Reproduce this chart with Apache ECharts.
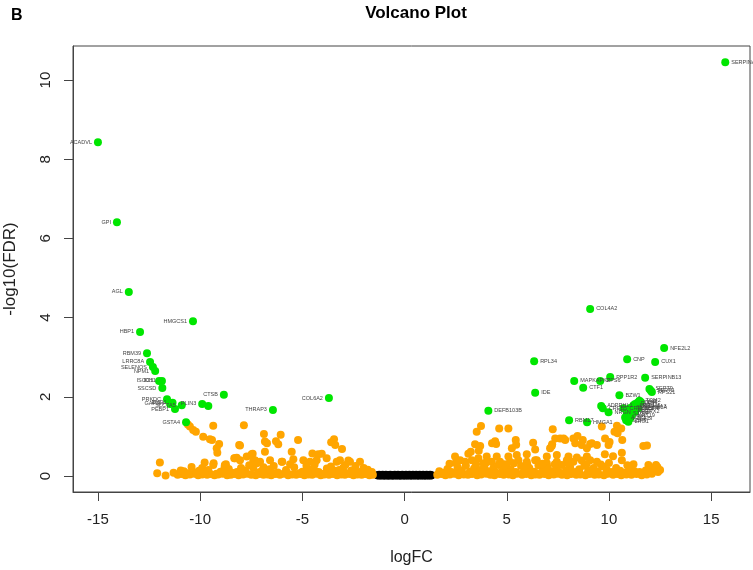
<!DOCTYPE html>
<html>
<head>
<meta charset="utf-8">
<script src="https://cdn.jsdelivr.net/npm/echarts@6/dist/echarts.min.js"></script>
<style>html,body{margin:0;padding:0;background:#fff}#c{width:753px;height:570px}</style>
</head>
<body>
<div id="c"></div>
<script>
var xTicks = [-15, -10, -5, 0, 5, 10, 15];
var yTicks = [0, 2, 4, 6, 8, 10];

// not significant (black), hugging zero
var blackX = [-1.32,-1.28,-1.24,-1.2,-1.16,-1.12,-1.07,-1.03,-0.99,-0.95,-0.91,-0.86,-0.82,-0.78,-0.74,-0.7,-0.65,-0.61,-0.57,-0.53,-0.48,-0.44,-0.4,-0.36,-0.32,-0.27,-0.23,-0.19,-0.15,-0.11,-0.06,-0.02,0.03,0.07,0.11,0.15,0.19,0.24,0.28,0.32,0.36,0.41,0.45,0.49,0.53,0.57,0.62,0.66,0.7,0.74,0.79,0.83,0.87,0.91,0.95,1.0,1.04,1.08,1.12,1.17,1.21,1.25,1.29,1.32];
var blackY = [0.02,0.01,0.03,0.02,0.01,0.02,0.03,0.01,0.02,0.01,0.03,0.02,0.01,0.02,0.01,0.03,0.02,0.01,0.02,0.01,0.03,0.02,0.01,0.02,0.03,0.01,0.02,0.01,0.02,0.03,0.01,0.02,0.01,0.03,0.02,0.01,0.02,0.03,0.01,0.02,0.01,0.03,0.02,0.01,0.02,0.03,0.01,0.02,0.01,0.03,0.02,0.01,0.02,0.03,0.01,0.02,0.01,0.03,0.02,0.01,0.02,0.03,0.01,0.02];

// fold-change passed but FDR not (orange)
var orangeX = [
-10.6,-10.5,-10.34,-10.21,-9.36,-7.86,-9.85,-9.52,-9.42,-9.07,-9.19,-9.16,-6.88,-6.06,-6.83,-6.73,-6.18,-5.21,-3.45,-3.39,-3.06,-8.09,-7.43,-6.83,-5.52,-4.51,-4.05,-11.97,-9.78,-9.34,-8.33,-5.98,-4.95,-3.81,-3.32,-2.75,-2.18,-12.1,-11.69,-10.42,
-4.22,-8.3,-8.05,-7.72,-7.32,-7.07,-6.58,-6.01,-5.44,-4.63,-4.3,-3.16,-2.67,-9.36,-8.79,-8.21,-7.48,-7.4,-7.23,-8.74,-8.05,-6.29,-3.59,
-11.1,-10.9,-10.72,-10.5,-10.28,-10.1,-9.9,-9.66,-9.5,-9.3,-9.12,-8.9,-8.68,-8.5,-8.3,-8.12,-7.9,-7.7,-7.5,-7.28,-7.1,-6.9,-6.7,-6.52,-6.3,-6.1,-5.92,-5.7,-5.5,-5.3,-5.1,-4.9,-4.7,-4.52,-4.3,-4.1,-3.92,-3.7,-3.5,-3.3,-3.1,-2.92,-2.7,-2.5,-2.3,-2.1,-1.9,-1.72,-1.55,
-10.8,-10.2,-9.6,-9.0,-8.6,-8.2,-7.8,-7.4,-7.0,-6.6,-6.2,-5.8,-5.4,-5.0,-4.6,-4.2,-3.8,-3.4,-3.0,-2.6,-2.2,-1.8,-2.4,-3.6,-4.8,-6.4,-7.6,-8.8,-9.9,-5.6,-4.4,-2.9,-6.9,-8.0,-3.2,-1.6,-2.0,-11.3,-10.95,
-10.6,-9.8,-9.2,-8.45,-7.95,-7.15,-6.45,-5.75,-5.15,-4.75,-3.95,-3.55,-2.85,-2.45,-1.95,-1.68,-6.95,-4.35,-8.85,-10.05,
3.74,3.53,4.63,5.08,7.25,4.43,4.48,5.44,3.70,7.37,7.61,7.86,8.26,8.72,8.35,8.67,8.92,9.16,9.41,7.12,7.2,6.39,5.25,3.24,3.12,3.63,
4.02,4.51,5.08,5.49,5.98,6.39,6.96,7.45,8.02,8.43,8.92,2.47,2.72,2.96,3.29,3.61,3.86,4.27,4.67,5.16,5.57,5.98,6.47,6.96,7.45,7.94,8.26,8.67,9.08,9.41,
9.65,10.39,10.27,10.42,10.6,10.65,11.86,7.78,8.46,9.08,9.81,9.98,11.68,11.93,12.37,12.03,10.63,10.63,11.2,10.2,9.8,3.45,4.28,5.46,6.29,7.22,10.03,
1.6,1.8,2.0,2.22,2.45,2.65,2.9,3.1,3.3,3.55,3.75,4.0,4.2,4.4,4.65,4.85,5.1,5.3,5.5,5.75,5.95,6.2,6.4,6.6,6.85,7.05,7.3,7.5,7.7,7.95,8.15,8.4,8.6,8.85,9.05,9.3,9.5,9.75,9.95,10.2,10.4,10.6,10.85,11.1,11.35,11.6,11.85,12.1,12.4,
1.7,2.1,2.3,2.6,2.8,3.0,3.2,3.4,3.7,3.9,4.1,4.35,4.6,4.8,5.0,5.2,5.45,5.7,5.9,6.1,6.35,6.55,6.8,7.0,7.25,7.45,7.7,7.9,8.1,8.35,8.55,8.8,9.0,9.25,9.45,9.7,9.9,10.15,10.35,10.55,10.8,11.0,11.25,11.5,11.8,12.2,
2.2,2.5,3.5,4.0,4.9,5.35,6.0,6.75,7.35,8.0,8.9,9.6,10.0,10.9,12.5,12.3,
1.9,2.4,2.75,3.15,3.45,3.8,4.15,4.5,4.75,5.05,5.4,5.8,6.25,6.7,7.15,7.6,8.05,8.5,8.95,9.35,9.85,10.3,10.7,11.15,11.55,12.0
];
var orangeY = [
1.3,1.25,1.16,1.12,1.27,1.28,0.99,0.93,0.91,0.81,0.70,0.59,1.06,1.04,0.87,0.83,0.80,0.91,0.93,0.78,0.68,0.78,0.56,0.61,0.61,0.57,0.56,0.34,0.34,0.32,0.45,0.36,0.40,0.45,0.36,0.39,0.36,0.07,0.01,0.23,
0.55,0.45,0.40,0.49,0.40,0.36,0.40,0.36,0.42,0.36,0.40,0.40,0.36,0.28,0.28,0.46,0.55,0.40,0.32,0.30,0.77,0.88,0.85,
0.03,0.05,0.02,0.04,0.06,0.02,0.04,0.03,0.05,0.02,0.04,0.06,0.02,0.03,0.05,0.02,0.04,0.06,0.03,0.02,0.05,0.03,0.04,0.02,0.05,0.03,0.06,0.02,0.04,0.03,0.05,0.02,0.04,0.03,0.06,0.02,0.04,0.03,0.05,0.02,0.04,0.03,0.05,0.02,0.04,0.03,0.05,0.02,0.03,
0.12,0.09,0.15,0.11,0.18,0.10,0.14,0.20,0.12,0.17,0.09,0.15,0.22,0.11,0.16,0.10,0.19,0.13,0.21,0.14,0.10,0.16,0.25,0.24,0.26,0.25,0.27,0.24,0.20,0.30,0.29,0.28,0.22,0.20,0.15,0.10,0.20,0.08,0.14,
0.07,0.09,0.06,0.08,0.07,0.09,0.06,0.08,0.07,0.09,0.06,0.08,0.07,0.09,0.06,0.08,0.13,0.12,0.14,0.13,
1.26,1.12,1.20,1.20,1.18,0.88,0.81,0.91,0.76,0.95,0.95,0.91,0.95,0.91,0.83,0.78,0.70,0.83,0.78,0.70,0.76,0.67,0.70,0.61,0.56,0.64,
0.49,0.49,0.49,0.53,0.55,0.40,0.49,0.53,0.49,0.47,0.49,0.49,0.40,0.36,0.40,0.45,0.32,0.36,0.36,0.36,0.40,0.36,0.40,0.32,0.36,0.40,0.36,0.39,0.40,0.36,
1.25,1.27,1.12,1.08,1.20,0.91,0.77,0.95,1.01,0.81,0.95,0.78,0.76,0.28,0.23,0.15,0.59,0.40,0.30,0.50,0.55,0.80,0.83,0.79,0.84,0.80,0.86,
0.03,0.05,0.02,0.04,0.06,0.02,0.04,0.03,0.05,0.02,0.04,0.06,0.03,0.02,0.05,0.03,0.04,0.02,0.06,0.03,0.05,0.02,0.04,0.03,0.05,0.02,0.04,0.06,0.03,0.02,0.05,0.03,0.04,0.02,0.05,0.03,0.04,0.02,0.06,0.03,0.05,0.02,0.04,0.03,0.05,0.02,0.04,0.06,0.10,
0.12,0.18,0.10,0.22,0.14,0.26,0.11,0.19,0.15,0.24,0.12,0.20,0.28,0.13,0.22,0.16,0.10,0.25,0.14,0.20,0.11,0.27,0.16,0.22,0.12,0.19,0.28,0.14,0.22,0.10,0.17,0.26,0.13,0.20,0.11,0.24,0.15,0.10,0.20,0.13,0.09,0.17,0.12,0.10,0.14,0.20,
0.31,0.33,0.30,0.34,0.30,0.32,0.29,0.31,0.30,0.32,0.30,0.29,0.33,0.27,0.15,0.28,
0.08,0.07,0.09,0.06,0.08,0.09,0.07,0.08,0.06,0.09,0.07,0.08,0.06,0.09,0.07,0.08,0.06,0.09,0.07,0.08,0.06,0.09,0.07,0.08,0.06,0.08
];

// significant (green) with gene labels
var greenX = [15.69,-15.0,-14.07,-13.49,-10.35,-12.94,-12.6,-12.45,-12.31,-12.2,-12.01,-11.87,-11.85,-11.62,-11.47,-11.35,-11.23,-10.9,-9.9,-9.6,-8.84,-6.44,-3.7,-10.69,
9.08,12.7,10.89,12.26,6.34,10.06,8.3,9.57,8.74,11.77,11.98,12.05,12.1,10.51,6.39,4.1,8.05,8.93,9.62,9.7,9.98,
10.71,10.88,11.04,11.12,11.2,11.28,11.33,11.4,11.49,11.56,10.79,10.84,10.95,11.04,11.12,11.28,11.44];
var greenY = [10.45,8.43,6.41,4.65,3.91,3.64,3.1,2.88,2.75,2.65,2.4,2.4,2.22,1.94,1.82,1.85,1.69,1.79,1.82,1.77,2.05,1.67,1.97,1.36,
4.22,3.23,2.95,2.88,2.9,2.5,2.4,2.4,2.23,2.48,2.2,2.15,2.12,2.04,2.1,1.65,1.41,1.36,1.77,1.71,1.61,
1.71,1.58,1.72,1.64,1.79,1.82,1.75,1.85,1.9,1.87,1.48,1.41,1.37,1.46,1.54,1.62,1.71];
var greenLabels = ['SERPINA1','ACADVL','GPI','AGL','HMGCS1','HBP1','RBM39','LRRC8A','SELENOS','NPM1','ISOC1','IDH1','SSCSD','PRKDC','GAPDH','ENO1','PEBP1','SLC7A5','PLIN3','','CTSB','THRAP3','COL6A2','GSTA4',
'COL4A2','NFE2L2','CNP','CUX1','RPL34','PPP1R2','MAPKAPK2','RPS6','CTF1','SERPINB13','SEPT9','SEPT2','RPS21','BZW1','IDE','DEFB103B','RBM17','HMGA1','ADPRHL1','CREB5','NRGN',
'CREB3L1','S100P','SERPINB1A','KRT7','LRRC15','ELF3','ALDH1A3','CD44','TGM2','LYZ','AQP3','SDF4','LRG1','TGFBI','KRT19','PRRX2','RBP4'];

var black = blackX.map(function(x,i){return [x, blackY[i]];});
var orange = orangeX.map(function(x,i){return [x, orangeY[i]];});
var green = greenX.map(function(x,i){
  return {value:[x, greenY[i]], name: greenLabels[i],
    label:{position: x < 0 ? 'left' : 'right'}};
});

var FONT = 'Liberation Sans, Arial, sans-serif';
var chart = echarts.init(document.getElementById('c'), null, {renderer:'canvas'});
chart.setOption({
  animation:false,
  backgroundColor:'#ffffff',
  title:[
    {text:'Volcano Plot', left:411, top:0, textAlign:'center',
     textStyle:{fontFamily:FONT, fontWeight:'bold', fontSize:17, color:'#000'}},
    {text:'B', left:6, top:3,
     textStyle:{fontFamily:FONT, fontWeight:'bold', fontSize:16, color:'#000'}}
  ],
  grid:{left:73, right:3, top:46, bottom:78, show:true, borderColor:'#444', borderWidth:1,
    backgroundColor:'transparent', containLabel:false, outerBoundsMode:'none'},
  xAxis:{type:'value', min:-16.22, max:16.9,
    name:'logFC', nameLocation:'middle', nameGap:58,
    nameTextStyle:{fontFamily:FONT, fontSize:16, color:'#222'},
    axisLine:{show:true, onZero:false, lineStyle:{color:'#444'}},
    splitLine:{show:false},
    axisTick:{show:true, inside:false, length:9, customValues:xTicks, lineStyle:{color:'#444'}},
    axisLabel:{customValues:xTicks, margin:20, fontFamily:FONT, fontSize:15, color:'#222'}
  },
  yAxis:{type:'value', min:-0.404, max:10.86,
    name:'-log10(FDR)', nameLocation:'middle', nameGap:54, nameRotate:90,
    nameTextStyle:{fontFamily:FONT, fontSize:17, color:'#222'},
    axisLine:{show:true, onZero:false, lineStyle:{color:'#444'}},
    splitLine:{show:false},
    axisTick:{show:true, inside:false, length:9, customValues:yTicks, lineStyle:{color:'#444'}},
    axisLabel:{customValues:yTicks, rotate:90, margin:20, fontFamily:FONT, fontSize:15, color:'#222'}
  },
  series:[
    {type:'scatter', data:black, symbolSize:8, itemStyle:{color:'#000000', opacity:1}, silent:true},
    {type:'scatter', data:orange, symbolSize:8, itemStyle:{color:'#FFA500', opacity:1}, silent:true},
    {type:'scatter', data:green, symbolSize:8, itemStyle:{color:'#00E600', opacity:1},
     label:{show:true, formatter:'{b}', distance:2, offset:[0,-2], fontSize:5.5, color:'#444', fontFamily:FONT},
     labelLayout:{hideOverlap:false}}
  ]
});
</script>
</body>
</html>
